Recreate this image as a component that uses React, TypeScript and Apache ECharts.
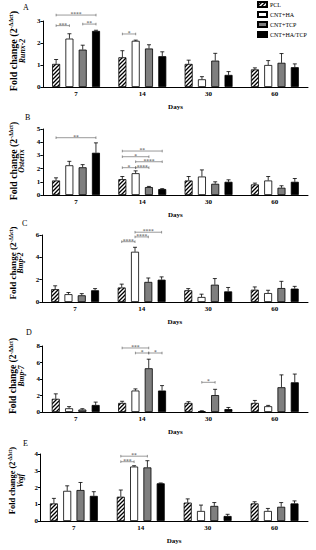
import React, { useEffect, useRef } from 'react';
import * as echarts from 'echarts';

const days = ['7', '14', '30', '60'];
const groups = ['PCL', 'CNT+HA', 'CNT+TCP', 'CNT+HA/TCP'];

// means[group][day], errors[group][day]
const runx2Mean = [[1.05, 1.35, 1.05, 0.8], [2.2, 2.1, 0.35, 1.0], [1.7, 1.75, 1.2, 1.1], [2.55, 1.4, 0.55, 0.9]];
const runx2Err = [[0.2, 0.3, 0.17, 0.07], [0.22, 0.03, 0.12, 0.2], [0.2, 0.17, 0.33, 0.42], [0.03, 0.2, 0.15, 0.15]];
// [day, fromGroup, toGroup, y, stars]
const runx2Sig = [[0, 0, 3, 3.27, 4], [0, 0, 1, 2.79, 3], [0, 2, 3, 2.86, 2], [1, 0, 1, 2.41, 1]];

const osterixMean = [[1.1, 1.2, 1.1, 0.8], [2.25, 1.65, 1.4, 1.1], [2.1, 0.6, 0.85, 0.55], [3.2, 0.45, 1.0, 1.0]];
const osterixErr = [[0.2, 0.2, 0.3, 0.1], [0.3, 0.18, 0.5, 0.3], [0.2, 0.05, 0.15, 0.15], [0.75, 0.03, 0.15, 0.25]];
const osterixSig = [[0, 0, 3, 4.34, 2], [1, 0, 3, 3.33, 2], [1, 0, 2, 2.9, 1], [1, 1, 3, 2.52, 4], [1, 0, 1, 2.07, 1], [1, 1, 2, 2.07, 4]];

const bmp2Mean = [[1.15, 1.3, 1.05, 1.1], [0.7, 4.5, 0.45, 0.8], [0.6, 1.8, 1.55, 1.25], [1.05, 2.0, 0.95, 1.2]];
const bmp2Err = [[0.3, 0.3, 0.15, 0.25], [0.15, 0.4, 0.25, 0.25], [0.15, 0.35, 0.55, 0.6], [0.15, 0.25, 0.35, 0.2]];
const bmp2Sig = [[1, 0, 1, 5.4, 4], [1, 1, 2, 5.83, 4], [1, 1, 3, 6.25, 4]];

const bmp7Mean = [[1.6, 1.1, 1.1, 1.1], [0.45, 2.6, 0.1, 0.7], [0.3, 5.3, 2.05, 3.0], [0.85, 2.6, 0.35, 3.6]];
const bmp7Err = [[0.6, 0.2, 0.15, 0.3], [0.2, 0.2, 0.05, 0.1], [0.1, 1.1, 0.7, 1.5], [0.35, 0.6, 0.2, 1.0]];
const bmp7Sig = [[1, 0, 2, 7.76, 3], [1, 1, 2, 7.15, 1], [1, 2, 3, 7.15, 1], [2, 1, 2, 3.6, 1]];

const vegfMean = [[1.05, 1.45, 1.1, 1.05], [1.8, 3.25, 0.6, 0.6], [1.85, 3.2, 0.9, 0.85], [1.5, 2.25, 0.3, 1.05]];
const vegfErr = [[0.3, 0.4, 0.22, 0.1], [0.3, 0.05, 0.35, 0.15], [0.45, 0.4, 0.2, 0.25], [0.25, 0.02, 0.1, 0.15]];
const vegfSig = [[1, 0, 2, 3.87, 2], [1, 0, 1, 3.54, 3]];

const panels = [
  { letter: 'A', gene: 'Runx-2', mean: runx2Mean, err: runx2Err, sig: runx2Sig, max: 3, interval: 1 },
  { letter: 'B', gene: 'Osterix', mean: osterixMean, err: osterixErr, sig: osterixSig, max: 5, interval: 1 },
  { letter: 'C', gene: 'Bmp-2', mean: bmp2Mean, err: bmp2Err, sig: bmp2Sig, max: 6, interval: 2 },
  { letter: 'D', gene: 'Bmp-7', mean: bmp7Mean, err: bmp7Err, sig: bmp7Sig, max: 8, interval: 2 },
  { letter: 'E', gene: 'Vegf', mean: vegfMean, err: vegfErr, sig: vegfSig, max: 4, interval: 1 },
];

// layout (pixels)
const layout = [
  { top: 21, height: 66, font: 10, gfont: 7.8, shift: 6 },
  { top: 129, height: 66, font: 9.8, gfont: 7.8, shift: 2 },
  { top: 235, height: 67, font: 9.1, gfont: 7.5, shift: 11 },
  { top: 346, height: 66, font: 9.5, gfont: 7.5, shift: 6 },
  { top: 454, height: 67, font: 8.4, gfont: 7.3, shift: 14 },
];
const letterPos = [[23, 3], [25, 113], [22, 219], [26, 328], [23, 439]];

const FONT = '"Liberation Serif", "Times New Roman", serif';
const BAR_W = 8;
const GAP = 5.3;
const OFFS = [-1.5, -0.5, 0.5, 1.5].map((k) => k * (BAR_W + GAP));

function makeHatch() {
  const c = document.createElement('canvas');
  c.width = 4;
  c.height = 4;
  const ctx = c.getContext('2d')!;
  ctx.fillStyle = '#fff';
  ctx.fillRect(0, 0, 4, 4);
  ctx.strokeStyle = '#000';
  ctx.lineWidth = 1.3;
  ctx.beginPath();
  ctx.moveTo(0, 4);
  ctx.lineTo(4, 0);
  ctx.moveTo(-1, 1);
  ctx.lineTo(1, -1);
  ctx.moveTo(3, 5);
  ctx.lineTo(5, 3);
  ctx.stroke();
  return c;
}

export default function App() {
  const ref = useRef<HTMLDivElement>(null);
  useEffect(() => {
    if (!ref.current) return;
    const chart = echarts.init(ref.current, undefined, { renderer: 'svg' });
    const hatch = { image: makeHatch(), repeat: 'repeat' };
    const fills: any[] = [hatch, '#fff', '#7f7f7f', '#000'];

    const series: any[] = [];
    panels.forEach((p, pi) => {
      groups.forEach((g, gi) => {
        series.push({
          type: 'bar',
          name: g,
          xAxisIndex: pi,
          yAxisIndex: pi,
          data: p.mean[gi],
          barWidth: BAR_W,
          barGap: (GAP / BAR_W) * 100 + '%',
          itemStyle: { color: fills[gi], borderColor: '#000', borderWidth: 0.8 },
          silent: true,
          z: 2,
        });
      });
      const errData: number[][] = [];
      groups.forEach((_, gi) => {
        days.forEach((_, di) => {
          errData.push([di, gi, p.mean[gi][di], p.err[gi][di]]);
        });
      });
      series.push({
        type: 'custom',
        xAxisIndex: pi,
        yAxisIndex: pi,
        data: errData,
        encode: { x: 0, y: 2 },
        silent: true,
        z: 3,
        renderItem: (params: any, api: any) => {
          const d = api.value(0);
          const g = api.value(1);
          const m = api.value(2);
          const e = api.value(3);
          const b = api.coord([d, m]);
          const t = api.coord([d, m + e]);
          const x = b[0] + OFFS[g];
          const st = { stroke: '#000', lineWidth: 0.8 };
          return {
            type: 'group',
            children: [
              { type: 'line', shape: { x1: x, y1: b[1], x2: x, y2: t[1] }, style: st },
              { type: 'line', shape: { x1: x - 2, y1: t[1], x2: x + 2, y2: t[1] }, style: st },
            ],
          };
        },
      });
      series.push({
        type: 'custom',
        xAxisIndex: pi,
        yAxisIndex: pi,
        data: p.sig,
        encode: { x: 0, y: 3 },
        silent: true,
        clip: false,
        z: 4,
        renderItem: (params: any, api: any) => {
          const d = api.value(0);
          const a = api.value(1);
          const bb = api.value(2);
          const y = api.value(3);
          const n = api.value(4);
          const c = api.coord([d, y]);
          const x1 = c[0] + OFFS[a];
          const x2 = c[0] + OFFS[bb];
          const st = { stroke: '#555', lineWidth: 0.6 };
          return {
            type: 'group',
            children: [
              { type: 'line', shape: { x1, y1: c[1], x2, y2: c[1] }, style: st },
              { type: 'line', shape: { x1, y1: c[1] - 1.3, x2: x1, y2: c[1] + 1.3 }, style: st },
              { type: 'line', shape: { x1: x2, y1: c[1] - 1.3, x2, y2: c[1] + 1.3 }, style: st },
              {
                type: 'text',
                style: {
                  x: (x1 + x2) / 2,
                  y: c[1] + 2,
                  text: '*'.repeat(n),
                  fill: '#444',
                  fontSize: 5.5,
                  fontFamily: FONT,
                  align: 'center',
                  verticalAlign: 'bottom',
                },
              },
            ],
          };
        },
      });
    });

    const axisText = { fontFamily: FONT, fontWeight: 'bold', fontSize: 7, color: '#000' };

    const option: any = {
      animation: false,
      backgroundColor: '#fff',
      legend: {
        data: groups,
        orient: 'vertical',
        left: 257,
        top: 1,
        itemWidth: 9,
        itemHeight: 5,
        itemGap: 3,
        icon: 'rect',
        padding: 0,
        selectedMode: false,
        textStyle: { fontFamily: FONT, fontSize: 6, color: '#000', padding: [0, 0, 0, -2] },
      },
      graphic: panels.map((p, i) => ({
        type: 'text',
        left: letterPos[i][0],
        top: letterPos[i][1],
        style: { text: p.letter, fontFamily: FONT, fontSize: 8, fill: '#000' },
      })),
      grid: layout.map((l) => ({ left: 31.5, right: 8, top: l.top, height: l.height })),
      xAxis: panels.map((p, i) => ({
        type: 'category',
        gridIndex: i,
        data: days,
        axisLine: { lineStyle: { color: '#000', width: 1 } },
        axisTick: { alignWithLabel: true, length: 2.5, lineStyle: { color: '#000' } },
        axisLabel: { ...axisText, margin: 3 },
        name: 'Days',
        nameLocation: 'middle',
        nameGap: 16,
        nameTextStyle: { ...axisText },
      })),
      yAxis: panels.map((p, i) => ({
        type: 'value',
        gridIndex: i,
        min: 0,
        max: p.max,
        interval: p.interval,
        splitLine: { show: false },
        axisLine: { show: true, lineStyle: { color: '#000', width: 1 } },
        axisTick: { show: true, length: 2.5, lineStyle: { color: '#000' } },
        axisLabel: { ...axisText, margin: 2.5 },
        name: '{a|Fold change (2}{s|-ΔΔct}{a|)}\n{i|' + p.gene + '}',
        nameLocation: 'middle',
        nameGap: 8,
        nameRotate: 90,
        nameTextStyle: {
          padding: [0, 0, 0, layout[i].shift],
          rich: {
            a: { fontFamily: FONT, fontWeight: 'bold', fontSize: layout[i].font, color: '#000', lineHeight: layout[i].font * 0.95 },
            s: { fontFamily: FONT, fontWeight: 'bold', fontSize: layout[i].font * 0.6, color: '#000', verticalAlign: 'top', lineHeight: layout[i].font * 0.95 },
            i: { fontFamily: FONT, fontWeight: 'bold', fontStyle: 'italic', fontSize: layout[i].gfont, color: '#000', lineHeight: layout[i].gfont * 1.1 },
          },
        },
      })),
      series,
    };
    chart.setOption(option);
    return () => chart.dispose();
  }, []);
  return <div ref={ref} style={{ position: 'fixed', left: 0, top: 0, width: 316, height: 550 }} />;
}
